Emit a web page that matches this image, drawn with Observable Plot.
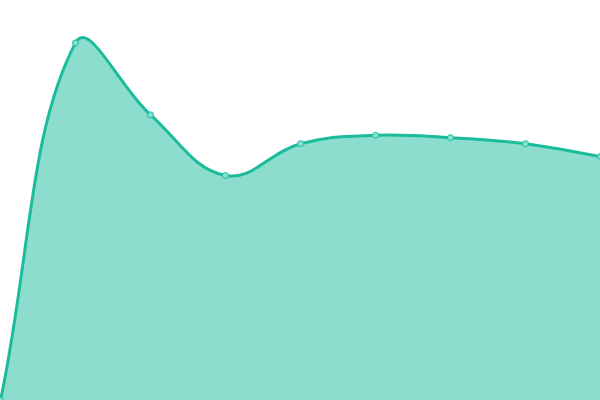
<!DOCTYPE html>
<html>
<head>
<meta charset="utf-8">
<script src="https://cdn.jsdelivr.net/npm/d3@7"></script>
<script src="https://cdn.jsdelivr.net/npm/@observablehq/plot@0.6"></script>
<style>
  html, body { margin: 0; padding: 0; background: #fff; }
  #chart svg { display: block; }
</style>
</head>
<body>
<div id="chart"></div>
<script>
const labels = [0, 1, 2, 3, 4, 5, 6, 7, 8];
const values = [0, 89.4, 71.4, 56.25, 64.2, 66.3, 65.7, 64.2, 61];

const data = labels.map((x, i) => ({x, y: values[i]}));

const W = 600, H = 400, TENSION = 0.4;

// Spline curve with distance-weighted control points (tension 0.4)
function SplineCurve(context) { this._context = context; }
SplineCurve.prototype = {
  areaStart() { this._line = 0; },
  areaEnd() { this._line = NaN; },
  lineStart() { this._xs = []; this._ys = []; },
  point(x, y) { this._xs.push(+x); this._ys.push(+y); },
  lineEnd() {
    const xs = this._xs, ys = this._ys, n = xs.length, ctx = this._context;
    if (n) {
      if (this._line) ctx.lineTo(xs[0], ys[0]); else ctx.moveTo(xs[0], ys[0]);
      const cpPrev = [], cpNext = [];
      const clamp = (v, lo, hi) => Math.max(lo, Math.min(hi, v));
      for (let i = 0; i < n; i++) {
        const pi = i > 0 ? i - 1 : i, ni = i < n - 1 ? i + 1 : i;
        const px = xs[pi], py = ys[pi], cx = xs[i], cy = ys[i], nx = xs[ni], ny = ys[ni];
        const d01 = Math.hypot(cx - px, cy - py), d12 = Math.hypot(nx - cx, ny - cy);
        let s01 = d01 / (d01 + d12), s12 = d12 / (d01 + d12);
        if (isNaN(s01)) s01 = 0;
        if (isNaN(s12)) s12 = 0;
        const fa = TENSION * s01, fb = TENSION * s12;
        cpPrev[i] = [clamp(cx - fa * (nx - px), 0, W), clamp(cy - fa * (ny - py), 0, H)];
        cpNext[i] = [clamp(cx + fb * (nx - px), 0, W), clamp(cy + fb * (ny - py), 0, H)];
      }
      for (let i = 1; i < n; i++) {
        ctx.bezierCurveTo(cpNext[i - 1][0], cpNext[i - 1][1], cpPrev[i][0], cpPrev[i][1], xs[i], ys[i]);
      }
    }
    if (this._line || (this._line !== 0 && n === 1)) ctx.closePath();
    this._line = 1 - this._line;
  }
};
const spline = (context) => new SplineCurve(context);

const chart = Plot.plot({
  width: W,
  height: H,
  margin: 0,
  x: {domain: [0, 8], axis: null},
  y: {domain: [0, 100], axis: null},
  marks: [
    Plot.areaY(data, {x: "x", y: "y", curve: spline, fill: "#1abc9c", fillOpacity: 0.5}),
    Plot.line(data, {x: "x", y: "y", curve: spline, stroke: "#1abc9c", strokeWidth: 3}),
    Plot.dot(data, {x: "x", y: "y", r: 3, fill: "#88e0d0", stroke: "#1abc9c", strokeWidth: 1})
  ]
});
document.getElementById("chart").appendChild(chart);
</script>
</body>
</html>
